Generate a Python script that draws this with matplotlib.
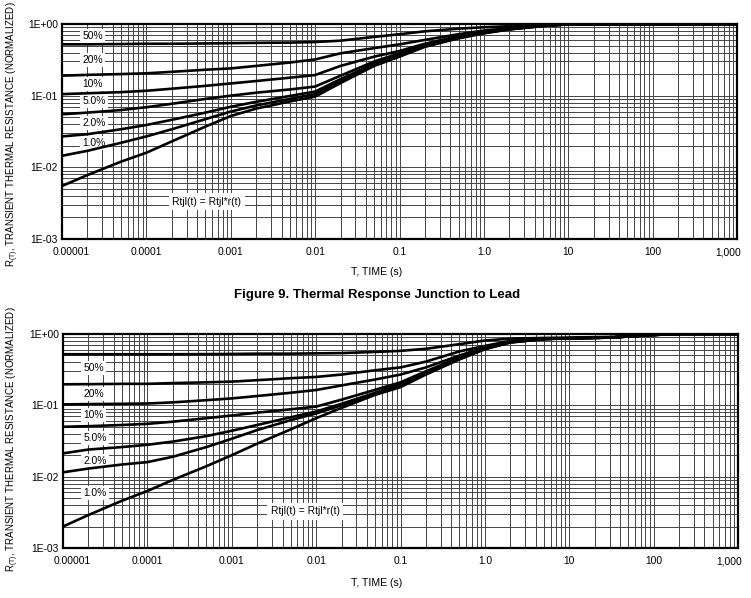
import numpy as np
import matplotlib
matplotlib.use('Agg')
import matplotlib.pyplot as plt
import matplotlib.transforms as mtrans
from matplotlib.ticker import LogLocator, NullFormatter, FixedLocator, FixedFormatter

plt.rcParams['font.family'] = ['Liberation Sans', 'DejaVu Sans']

# ---------- dados ----------
duty_labels = ['50%', '20%', '10%', '5.0%', '2.0%', '1.0%']

# Figura de cima
t_top = [1e-5, 2e-5, 5e-5, 1e-4, 2e-4, 5e-4, 1e-3, 2e-3, 5e-3, 1e-2, 2e-2, 5e-2,
         0.1, 0.2, 0.5, 1.0, 2.0, 5.0, 10, 1000]
top_50 = [0.52, 0.52, 0.525, 0.53, 0.53, 0.535, 0.54, 0.545, 0.55, 0.56, 0.585, 0.66,
          0.72, 0.79, 0.86, 0.90, 0.93, 0.97, 0.99, 1.0]
top_20 = [0.19, 0.195, 0.20, 0.205, 0.215, 0.23, 0.24, 0.26, 0.29, 0.32, 0.39, 0.46,
          0.52, 0.60, 0.72, 0.81, 0.88, 0.95, 0.99, 1.0]
top_10 = [0.105, 0.108, 0.112, 0.117, 0.125, 0.137, 0.148, 0.16, 0.178, 0.194, 0.26, 0.35,
          0.42, 0.53, 0.68, 0.78, 0.86, 0.94, 0.99, 1.0]
top_5 = [0.055, 0.058, 0.063, 0.069, 0.077, 0.09, 0.10, 0.11, 0.122, 0.134, 0.19, 0.30,
         0.39, 0.51, 0.66, 0.77, 0.85, 0.94, 0.99, 1.0]
top_2 = [0.027, 0.029, 0.034, 0.039, 0.046, 0.058, 0.070, 0.082, 0.099, 0.114, 0.17, 0.28,
         0.37, 0.50, 0.65, 0.76, 0.85, 0.94, 0.99, 1.0]
top_1 = [0.0145, 0.017, 0.022, 0.027, 0.034, 0.047, 0.060, 0.073, 0.09, 0.105, 0.16, 0.27,
         0.36, 0.49, 0.64, 0.75, 0.84, 0.94, 0.99, 1.0]
top_single = [0.0055, 0.0078, 0.012, 0.016, 0.023, 0.037, 0.052, 0.066, 0.083, 0.097, 0.15, 0.26,
              0.35, 0.48, 0.63, 0.74, 0.84, 0.94, 0.99, 1.0]

# Figura de baixo
t_bot = [1e-5, 2e-5, 5e-5, 1e-4, 2e-4, 5e-4, 1e-3, 2e-3, 5e-3, 1e-2, 2e-2, 5e-2,
         0.1, 0.2, 0.5, 1.0, 2.0, 5.0, 10, 30, 100, 200, 1000]
bot_50 = [0.52, 0.52, 0.52, 0.52, 0.52, 0.522, 0.525, 0.53, 0.53, 0.535, 0.54, 0.56,
          0.58, 0.62, 0.72, 0.81, 0.86, 0.88, 0.89, 0.91, 0.97, 1.0, 1.0]
bot_20 = [0.197, 0.198, 0.20, 0.20, 0.205, 0.21, 0.215, 0.225, 0.24, 0.25, 0.27, 0.31,
          0.34, 0.41, 0.57, 0.68, 0.80, 0.86, 0.875, 0.89, 0.97, 1.0, 1.0]
bot_10 = [0.103, 0.104, 0.105, 0.106, 0.11, 0.118, 0.125, 0.135, 0.15, 0.164, 0.19, 0.23,
          0.27, 0.34, 0.50, 0.65, 0.78, 0.85, 0.87, 0.89, 0.97, 1.0, 1.0]
bot_5 = [0.050, 0.051, 0.053, 0.055, 0.059, 0.066, 0.072, 0.079, 0.088, 0.096, 0.12, 0.165,
         0.21, 0.30, 0.47, 0.64, 0.77, 0.85, 0.87, 0.89, 0.97, 1.0, 1.0]
bot_2 = [0.0212, 0.024, 0.026, 0.028, 0.031, 0.037, 0.044, 0.053, 0.068, 0.082, 0.105, 0.15,
         0.20, 0.29, 0.46, 0.63, 0.77, 0.85, 0.87, 0.89, 0.97, 1.0, 1.0]
bot_1 = [0.0115, 0.013, 0.0148, 0.016, 0.019, 0.026, 0.034, 0.045, 0.062, 0.077, 0.10, 0.145,
         0.19, 0.28, 0.45, 0.62, 0.76, 0.85, 0.87, 0.89, 0.97, 1.0, 1.0]
bot_single = [0.0020, 0.0029, 0.0046, 0.0063, 0.009, 0.014, 0.020, 0.029, 0.046, 0.066, 0.092, 0.14,
              0.18, 0.27, 0.44, 0.61, 0.76, 0.85, 0.87, 0.89, 0.97, 1.0, 1.0]

# posicao dos rotulos de duty cycle
top_lab_y = [0.68, 0.315, 0.146, 0.084, 0.042, 0.022]
bot_lab_y = [0.337, 0.144, 0.074, 0.035, 0.0166, 0.0059]

x_ticks = [1e-5, 1e-4, 1e-3, 1e-2, 1e-1, 1, 10, 100, 1000]
x_ticklabels = ['0.00001', '0.0001', '0.001', '0.01', '0.1', '1.0', '10', '100', '1,000']
y_ticks = [1e-3, 1e-2, 1e-1, 1]
y_ticklabels = ['1E-03', '1E-02', '1E-01', '1E+00']

fig = plt.figure(figsize=(7.51, 5.98), dpi=100)
ax1 = fig.add_axes([0.0826, 0.6003, 0.8988, 0.3596])
ax2 = fig.add_axes([0.0839, 0.0836, 0.8988, 0.3579])


def monta_eixo(ax, t, curvas, lab_y, eq_x):
    ax.set_xscale('log')
    ax.set_yscale('log')
    ax.set_xlim(1e-5, 1000)
    ax.set_ylim(1e-3, 1)
    ax.xaxis.set_major_locator(FixedLocator(x_ticks))
    ax.xaxis.set_major_formatter(FixedFormatter(x_ticklabels))
    ax.yaxis.set_major_locator(FixedLocator(y_ticks))
    ax.yaxis.set_major_formatter(FixedFormatter(y_ticklabels))
    ax.xaxis.set_minor_locator(LogLocator(base=10, subs=np.arange(2, 10), numticks=20))
    ax.yaxis.set_minor_locator(LogLocator(base=10, subs=np.arange(2, 10), numticks=20))
    ax.xaxis.set_minor_formatter(NullFormatter())
    ax.yaxis.set_minor_formatter(NullFormatter())
    ax.tick_params(which='both', length=0, labelsize=7.4)
    ax.tick_params(axis='x', pad=6)
    ax.tick_params(axis='y', pad=3)
    ax.set_axisbelow(True)
    ax.grid(which='both', color='#444444', linewidth=0.7)
    for s in ax.spines.values():
        s.set_linewidth(1.6)
    for c in curvas:
        ax.plot(t, c, color='black', linewidth=1.9, zorder=3)
    for lab, y in zip(duty_labels, lab_y):
        ax.text(1.75e-5, y, lab, fontsize=7.4, ha='left', va='center', zorder=2,
                bbox=dict(facecolor='white', edgecolor='none', pad=1.5))
    ax.text(eq_x, 0.0033, 'Rtjl(t) = Rtjl*r(t)', fontsize=7.4, ha='center', va='center',
            zorder=2, bbox=dict(facecolor='white', edgecolor='none', pad=2.5))
    # primeiro e ultimo rotulo deslocados como no original
    labs = ax.get_xticklabels()
    labs[0].set_transform(labs[0].get_transform() +
                          mtrans.ScaledTranslation(9 / 100, 0, fig.dpi_scale_trans))
    labs[-1].set_transform(labs[-1].get_transform() +
                           mtrans.ScaledTranslation(-9 / 100, 0, fig.dpi_scale_trans))


monta_eixo(ax1, t_top, [top_50, top_20, top_10, top_5, top_2, top_1, top_single],
           top_lab_y, 5.2e-4)
monta_eixo(ax2, t_bot, [bot_50, bot_20, bot_10, bot_5, bot_2, bot_1, bot_single],
           bot_lab_y, 7.4e-3)

ylab = 'R$_{\\mathregular{(T)}}$, TRANSIENT THERMAL RESISTANCE (NORMALIZED)'
fig.text(0.0175, 0.775, ylab, rotation=90, fontsize=7.0, ha='center', va='center')
fig.text(0.0175, 0.266, ylab, rotation=90, fontsize=7.0, ha='center', va='center')

fig.text(0.501, 0.545, 'T, TIME (s)', fontsize=7.6, ha='center', va='center')
fig.text(0.502, 0.025, 'T, TIME (s)', fontsize=7.6, ha='center', va='center')

fig.text(0.502, 0.507, 'Figure 9. Thermal Response Junction to Lead', fontsize=9.5,
         fontweight='bold', ha='center', va='center')

fig.savefig('out.png', dpi=100)
